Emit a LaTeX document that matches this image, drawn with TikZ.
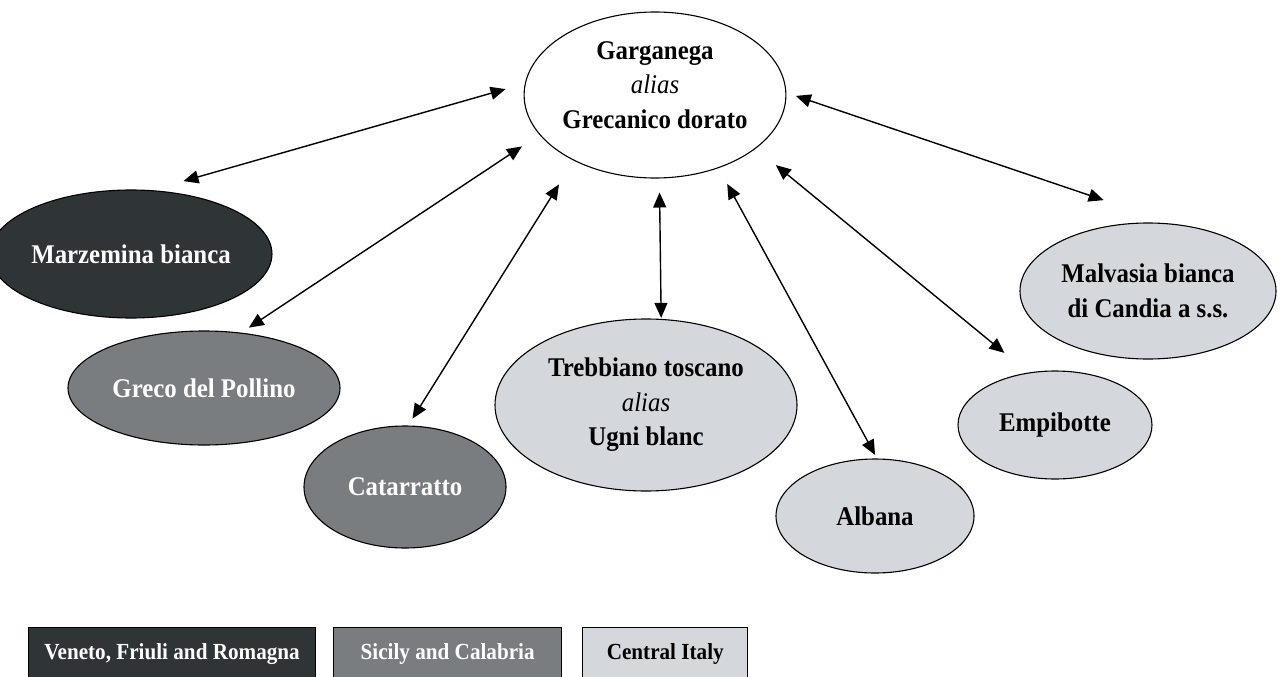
\documentclass[tikz,border=0pt]{standalone}
\usepackage{fontspec}
\setmainfont{Liberation Serif}[FakeStretch=0.92]
\usetikzlibrary{positioning,shapes.geometric,arrows.meta}

\definecolor{darkreg}{HTML}{2F3437}
\definecolor{midreg}{HTML}{7A7D80}
\definecolor{lightreg}{HTML}{D4D7DB}

\begin{document}
\begin{tikzpicture}[
		x=1pt,y=-1pt,
		grape/.style={draw,ellipse,line width=1.1pt,inner sep=0pt,align=center,
			font=\fontsize{27}{34.5}\selectfont\bfseries},
		northgrape/.style={grape,fill=darkreg,text=white},
		southgrape/.style={grape,fill=midreg,text=white},
		centregrape/.style={grape,fill=lightreg},
		keybox/.style={draw,rectangle,line width=1.1pt,minimum height=53pt,
			inner xsep=12pt,anchor=north west,font=\fontsize{23}{28}\selectfont\bfseries},
		link/.style={{Triangle[length=15pt,width=13pt]}-{Triangle[length=15pt,width=13pt]},line width=1.4pt}
		]
		\useasboundingbox (0,0) rectangle (1285,677);
		% the grapes
		\node[grape,minimum width=248pt,minimum height=166pt] (garg) at (655,95)
			{Garganega\\{\mdseries\itshape alias}\\Grecanico dorato\\[-14pt]};
		\node[northgrape,minimum width=248pt,minimum height=128pt] (marz) at (131,254) {Marzemina bianca};
		\node[southgrape,minimum width=272pt,minimum height=114pt] (greco) at (204,388) {Greco del Pollino};
		\node[southgrape,minimum width=202pt,minimum height=122pt] (cat) at (405,487) {Catarratto};
		\node[centregrape,minimum width=302pt,minimum height=172pt] (treb) at (646,405)
			{Trebbiano toscano\\{\mdseries\itshape alias}\\Ugni blanc};
		\node[centregrape,minimum width=198pt,minimum height=114pt] (alb) at (875,516) {Albana};
		\node[centregrape,minimum width=194pt,minimum height=108pt] (emp) at (1055,425) {Empibotte};
		\node[centregrape,minimum width=256pt,minimum height=136pt] (malv) at (1148,291)
			{Malvasia bianca\\di Candia a s.s.};
		% links
		\draw[link,shorten <=20pt,shorten >=33pt] (garg.175) -- (marz.72);
		\draw[link,shorten <=21pt,shorten >=9pt] (garg.199) -- (greco.56);
		\draw[link,shorten <=28pt,shorten >=8pt] (garg.219) -- (cat.87);
		\draw[link,shorten <=14pt,shorten >=1pt] (garg.273.4) -- (treb.80.8);
		\draw[link,shorten <=18pt,shorten >=4pt] (garg.311) -- (alb.88);
		\draw[link,shorten <=26pt,shorten >=31pt] (garg.332) -- (emp.117);
		\draw[link,shorten <=10pt,shorten >=74pt] (garg.1) -- (malv.69);
		% legend
		\node[keybox,fill=darkreg,text=white,minimum width=287pt] (kn) at (28,627) {Veneto, Friuli and Romagna};
		\node[keybox,fill=midreg,text=white,minimum width=228pt,right=17pt of kn.north east,anchor=north west] (ks) {Sicily and Calabria};
		\node[keybox,fill=lightreg,minimum width=165pt,right=20pt of ks.north east,anchor=north west] (kc) {Central Italy};
	\end{tikzpicture}
\end{document}
